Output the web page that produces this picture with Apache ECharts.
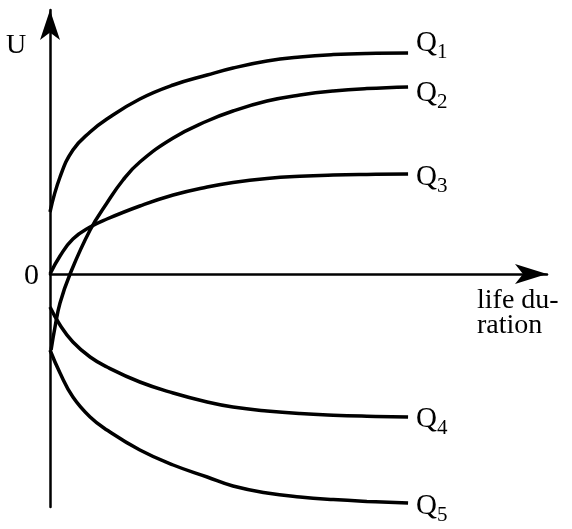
<!DOCTYPE html>
<html>
<head>
<meta charset="utf-8">
<style>
  html, body { margin: 0; padding: 0; background: #fff; }
  #main { width: 572px; height: 529px; }
</style>
<script src="https://cdn.jsdelivr.net/npm/echarts@6/dist/echarts.min.js"></script>
</head>
<body>
<div id="main"></div>
<script>
// life duration (x) shared by Q1, Q3, Q4, Q5
const lifeX = [0, 0.28, 0.64, 1.12, 1.59, 2.51, 3.44, 4.39, 5.11, 6.06, 6.98, 7.91, 8.85, 10]
// Q2 starts below zero and rises steeply, so it has its own x values
const lifeX2 = [0.03, 0.14, 0.28, 0.56, 1.12, 1.59, 2.04, 2.51, 3.44, 4.39, 5.11, 6.06, 6.98, 7.91, 8.85, 10]

const q1 = [3.1, 4.85, 6.2, 7.1, 7.75, 8.75, 9.45, 9.95, 10.3, 10.65, 10.85, 10.97, 11.03, 11.05]
const q2 = [-3.8, -2.65, -1.45, 0, 2.2, 3.55, 4.7, 5.6, 6.8, 7.65, 8.15, 8.65, 8.95, 9.15, 9.27, 9.35]
const q3 = [0, 0.9, 1.75, 2.35, 2.75, 3.4, 3.95, 4.35, 4.58, 4.78, 4.89, 4.95, 4.98, 5.0]
const q4 = [-1.65, -2.55, -3.4, -4.15, -4.65, -5.4, -5.95, -6.4, -6.65, -6.85, -6.98, -7.06, -7.11, -7.15]
const q5 = [-3.8, -4.95, -6.15, -7.15, -7.8, -8.8, -9.55, -10.15, -10.6, -10.95, -11.15, -11.28, -11.37, -11.45]

const names = ['1', '2', '3', '4', '5']
const labelShift = [-10.5, 5.5, 2.5, 1.5, 3]

const serif = 'Liberation Serif'

function pairs(xs, ys) {
  return ys.map((y, i) => [xs[i], y])
}

function curve(idx, data) {
  return {
    name: 'Q' + names[idx],
    type: 'line',
    data: data,
    smooth: 0.45,
    symbol: 'none',
    silent: true,
    lineStyle: { color: '#000', width: 3.5 },
    endLabel: {
      show: true,
      distance: 8,
      offset: [0, labelShift[idx]],
      formatter: '{q|Q}{s|' + names[idx] + '}',
      rich: {
        q: { fontFamily: serif, fontSize: 29, lineHeight: 28, color: '#000', verticalAlign: 'top' },
        s: { fontFamily: serif, fontSize: 21, lineHeight: 20, color: '#000', verticalAlign: 'top', padding: [13, 0, 0, 0] }
      }
    }
  }
}

const chart = echarts.init(document.getElementById('main'), null, { renderer: 'canvas' })
chart.setOption({
  animation: false,
  backgroundColor: '#fff',
  grid: { left: 50, right: 25, top: 10, bottom: 22 },
  xAxis: {
    type: 'value',
    min: 0,
    max: 13.88,
    axisLine: {
      onZero: true,
      symbol: ['none', 'arrow'],
      symbolSize: [15, 32],
      lineStyle: { color: '#000', width: 2.5 }
    },
    axisTick: { show: false },
    axisLabel: { show: false },
    splitLine: { show: false }
  },
  yAxis: {
    type: 'value',
    min: -11.65,
    max: 13.2,
    axisLine: {
      show: true,
      symbol: ['none', 'arrow'],
      symbolSize: [15, 30],
      lineStyle: { color: '#000', width: 2.5 }
    },
    axisTick: { show: false },
    axisLabel: { show: false },
    splitLine: { show: false }
  },
  graphic: [
    {
      type: 'text', left: 6, top: 32,
      style: { text: 'U', fontFamily: serif, fontSize: 28, fill: '#000' }
    },
    {
      type: 'text', left: 24, top: 261,
      style: { text: '0', fontFamily: serif, fontSize: 30, fill: '#000' }
    },
    {
      type: 'text', left: 477, top: 287,
      style: { text: 'life du-\nration', fontFamily: serif, fontSize: 28, lineHeight: 25, fill: '#000' }
    }
  ],
  series: [
    curve(0, pairs(lifeX, q1)),
    curve(1, pairs(lifeX2, q2)),
    curve(2, pairs(lifeX, q3)),
    curve(3, pairs(lifeX, q4)),
    curve(4, pairs(lifeX, q5))
  ]
})
</script>
</body>
</html>
